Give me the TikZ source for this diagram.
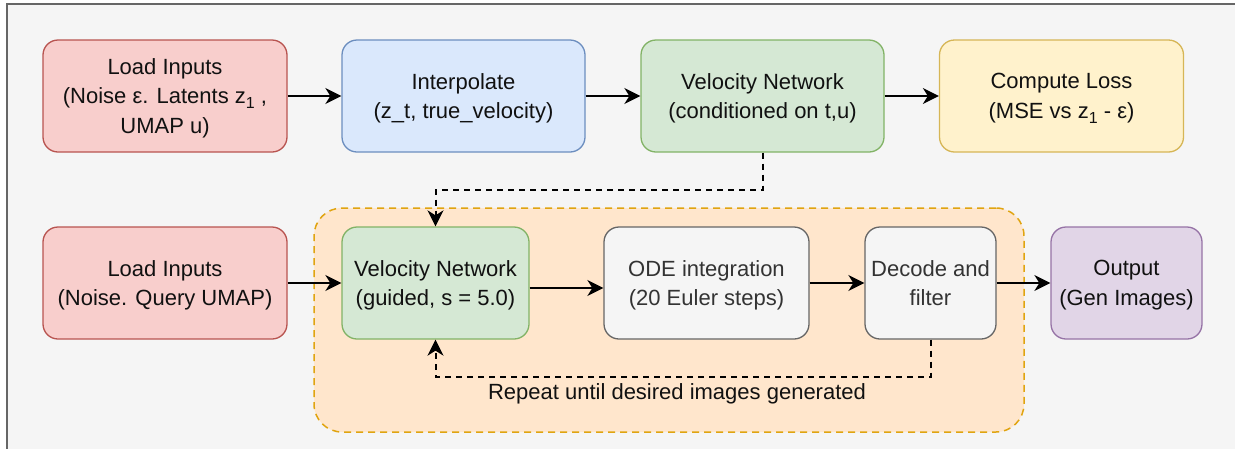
\documentclass[tikz,border=0pt]{standalone}
\usepackage{fontspec}
\setmainfont{Liberation Sans}
\usetikzlibrary{arrows.meta,calc}
\definecolor{bgc}{HTML}{F5F5F5}
\definecolor{framec}{HTML}{666666}
\definecolor{redf}{HTML}{F8CECC}\definecolor{redd}{HTML}{B85450}
\definecolor{bluef}{HTML}{DAE8FC}\definecolor{blued}{HTML}{6C8EBF}
\definecolor{greenf}{HTML}{D5E8D4}\definecolor{greend}{HTML}{82B366}
\definecolor{yelf}{HTML}{FFF2CC}\definecolor{yeld}{HTML}{D6B656}
\definecolor{grayf}{HTML}{F5F5F5}\definecolor{grayd}{HTML}{666666}\definecolor{grayt}{HTML}{333333}
\definecolor{purf}{HTML}{E1D5E7}\definecolor{purd}{HTML}{9673A6}
\definecolor{orf}{HTML}{FFE6CC}\definecolor{ord}{HTML}{E0A410}
\definecolor{txt}{HTML}{111111}
\newcommand{\sbs}[1]{\raisebox{-5pt}{\fontsize{16}{16}\selectfont #1}}
\begin{document}
\begin{tikzpicture}[x=1pt,y=-1pt,
  box/.style={rectangle, rounded corners=15pt, line width=1.3pt, align=center,
    font=\fontsize{22}{29.5}\selectfont, text=txt, inner sep=0pt, text depth=-3pt},
  arr/.style={line width=1.6pt, -{Stealth[length=16pt,width=16pt,inset=5pt]}},
  darr/.style={line width=2pt, dash pattern=on 6pt off 5pt, -{Stealth[length=16pt,width=16pt,inset=5pt]}},
]
\clip (0,0) rectangle (1235,448);
\useasboundingbox (0,0) rectangle (1235,448);
\fill[white] (0,0) rectangle (1235,448);
\draw[fill=bgc, draw=framec, line width=2pt] (7,4) rectangle (1260,470);

% group
\node[draw=ord, fill=orf, line width=1.5pt, dash pattern=on 7pt off 5pt, rounded corners=28pt,
  minimum width=710pt, minimum height=224pt, inner sep=0pt] (grp) at (669,320) {};

% row 1
\node[box, fill=redf, draw=redd, minimum width=244pt, minimum height=112pt] (li1) at (165,96)
  {Load Inputs\\(Noise ε. Latents z\sbs{1} ,\\UMAP u)};
\node[box, fill=bluef, draw=blued, minimum width=243pt, minimum height=112pt] (ip) at (463.5,96)
  {Interpolate\\(z\_t, true\_velocity)};
\node[box, fill=greenf, draw=greend, minimum width=243pt, minimum height=112pt] (v1) at (762.5,96)
  {Velocity Network\\(conditioned on t,u)};
\node[box, fill=yelf, draw=yeld, minimum width=244pt, minimum height=112pt] (cl) at (1061.5,96)
  {Compute Loss\\(MSE vs z\sbs{1} - ε)};

% row 2
\node[box, fill=redf, draw=redd, minimum width=244pt, minimum height=112pt] (li2) at (165,283)
  {Load Inputs\\(Noise. Query UMAP)};
\node[box, fill=greenf, draw=greend, minimum width=187pt, minimum height=112pt] (vg) at (435.5,283)
  {Velocity Network\\(guided, s = 5.0)};
\node[box, fill=grayf, draw=grayd, text=grayt, minimum width=205pt, minimum height=112pt] (ode) at (706.5,283)
  {ODE integration\\(20 Euler steps)};
\node[box, fill=grayf, draw=grayd, text=grayt, minimum width=131pt, minimum height=112pt] (dec) at (930.5,283)
  {Decode and\\filter};
\node[box, fill=purf, draw=purd, minimum width=151pt, minimum height=112pt] (out) at (1126.5,283)
  {Output\\(Gen Images)};

\node[font=\fontsize{22}{26}\selectfont, text=txt] (rep) at (677,394) {Repeat until desired images generated};

% arrows row 1
\draw[arr] (li1) -- (ip);
\draw[arr] (ip) -- (v1);
\draw[arr] (v1) -- (cl);
% row 2
\draw[arr] (li2) -- (vg);
\draw[arr] ([yshift=-5pt]vg.east) -- ([yshift=-5pt]ode.west);
\draw[arr] (ode) -- (dec);
\draw[arr] (dec) -- (out);
% dashed
\draw[darr] (v1.south) -- ++(0,37) -| (vg.north);
\draw[darr] (dec.south) -- ++(0,37) -| (vg.south);
\end{tikzpicture}
\end{document}
